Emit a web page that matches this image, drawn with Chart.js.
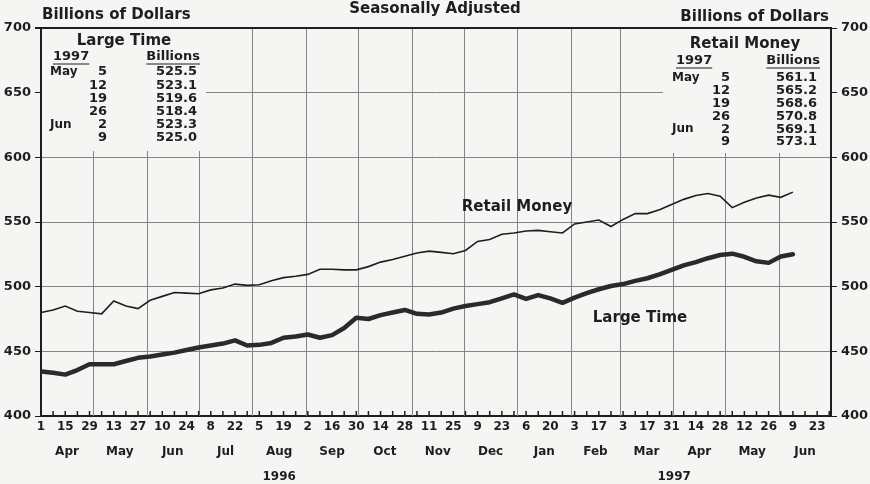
<!DOCTYPE html>
<html>
<head>
<meta charset="utf-8">
<script src="https://cdn.jsdelivr.net/npm/chart.js@4.4.0/dist/chart.umd.min.js"></script>
<style>
    html, body { margin: 0; padding: 0; background: #f5f5f3; }
    #wrap { width: 870px; height: 484px; }
</style>
</head>
<body>
<div id="wrap"><canvas id="chart" width="870" height="484"></canvas></div>
<script>
// Semanas a partir de 1 Apr 1996 (uma leitura por semana)
const retailMoney = [
    480, 482, 485, 481, 480, 479, 489, 485, 483, 489.5,
    492.5, 495.5, 495, 494.5, 497.5, 499, 502, 501, 501.5, 504.5,
    507, 508, 509.5, 513.5, 513.5, 513, 513, 515.5, 519, 521,
    523.5, 526, 527.5, 526.5, 525.5, 528, 535, 536.5, 540.5, 541.5,
    543, 543.5, 542.5, 541.5, 548.5, 550, 551.5, 546.5, 552, 556.5,
    556.5, 559.5, 563.5, 567.5, 570.5, 572, 570, 561.1, 565.2, 568.6,
    570.8, 569.1, 573.1
];
const largeTime = [
    434.5, 433.5, 432, 435.5, 440, 440, 440, 442.5, 445, 446,
    447.5, 449, 451, 453, 454.5, 456, 458.5, 454.5, 455, 456.5,
    460.5, 461.5, 463, 460.5, 462.5, 468, 476, 475, 478, 480,
    482, 479, 478.5, 480, 483, 485, 486.5, 488, 491, 494,
    490.5, 493.5, 491, 487.5, 491.5, 495, 498, 500.5, 502, 504.5,
    506.5, 509.5, 513, 516.5, 519, 522, 524.5, 525.5, 523.1, 519.6,
    518.4, 523.3, 525.0
];

// Eixo x em dias desde 1 Apr 1996
const monthStarts = [0, 30, 61, 91, 122, 153, 183, 214, 244, 275, 306, 334, 365, 395, 426, 456];
const monthNames = ['Apr', 'May', 'Jun', 'Jul', 'Aug', 'Sep', 'Oct', 'Nov', 'Dec',
                    'Jan', 'Feb', 'Mar', 'Apr', 'May', 'Jun'];
const yearLabels = ['1996', '1997'];
const yearStarts = [0, 275, 456];

// Tabelas das caixas
const tableDays = [['May', '5'], ['', '12'], ['', '19'], ['', '26'], ['Jun', '2'], ['', '9']];
const largeTimeTable = ['525.5', '523.1', '519.6', '518.4', '523.3', '525.0'];
const retailMoneyTable = ['561.1', '565.2', '568.6', '570.8', '569.1', '573.1'];

const ink = '#1e1e1e';
const gridColor = '#858585';
const bg = '#f5f5f3';
const fontFamily = '"DejaVu Sans", sans-serif';

function toPoints(values) {
    return values.map((v, i) => ({ x: i * 7, y: v }));
}

function dayOfMonth(d) {
    return new Date(1996, 3, 1 + d).getDate();
}

// Plugin para grade mensal, caixas e textos
const framePlugin = {
    id: 'frame',
    beforeDatasetsDraw(chart) {
        const { ctx, chartArea: a, scales: { x } } = chart;
        ctx.save();
        ctx.strokeStyle = gridColor;
        ctx.lineWidth = 1;
        monthStarts.slice(1, -1).forEach(d => {
            const px = Math.round(x.getPixelForValue(d)) + 0.5;
            ctx.beginPath();
            ctx.moveTo(px, a.top);
            ctx.lineTo(px, a.bottom);
            ctx.stroke();
        });
        // caixas das tabelas
        ctx.fillStyle = bg;
        ctx.fillRect(a.left + 1, a.top + 1, 164, 122);
        ctx.fillRect(663, a.top + 1, a.right - 664, 124);
        ctx.restore();
    },
    afterDraw(chart) {
        const { ctx, chartArea: a, scales: { x } } = chart;
        ctx.save();

        // borda superior
        ctx.strokeStyle = ink;
        ctx.lineWidth = 2;
        ctx.beginPath();
        ctx.moveTo(a.left, a.top);
        ctx.lineTo(a.right, a.top);
        ctx.stroke();

        // marcas semanais
        ctx.lineWidth = 1.5;
        for (let d = 0; d < 456; d += 7) {
            const px = x.getPixelForValue(d);
            ctx.beginPath();
            ctx.moveTo(px, a.bottom);
            ctx.lineTo(px, a.bottom - 5);
            ctx.stroke();
        }

        ctx.fillStyle = ink;
        ctx.textBaseline = 'middle';

        // meses
        ctx.font = 'bold 12px ' + fontFamily;
        ctx.textAlign = 'center';
        monthNames.forEach((m, i) => {
            const mid = (monthStarts[i] + monthStarts[i + 1]) / 2;
            ctx.fillText(m, x.getPixelForValue(mid), 452);
        });
        // anos
        yearLabels.forEach((yl, i) => {
            const mid = (yearStarts[i] + yearStarts[i + 1]) / 2;
            ctx.fillText(yl, x.getPixelForValue(mid), 477);
        });

        // titulos
        ctx.font = 'bold 15px ' + fontFamily;
        ctx.textAlign = 'left';
        ctx.fillText('Billions of Dollars', 42, 15);
        ctx.textAlign = 'right';
        ctx.fillText('Billions of Dollars', 829, 17);
        ctx.textAlign = 'center';
        ctx.fillText('Seasonally Adjusted', 435, 9);

        // rotulos das linhas
        ctx.fillText('Retail Money', 517, 207);
        ctx.fillText('Large Time', 640, 318);

        drawTable(ctx, {
            title: 'Large Time', titleX: 124, titleY: 41,
            yearX: 53, headY: 57, billRight: 200,
            monX: 50, dayRight: 107, valRight: 197,
            rowY: 72, step: 13.2, values: largeTimeTable
        });
        drawTable(ctx, {
            title: 'Retail Money', titleX: 745, titleY: 44,
            yearX: 676, headY: 61, billRight: 820,
            monX: 672, dayRight: 730, valRight: 817,
            rowY: 78, step: 12.8, values: retailMoneyTable
        });
        ctx.restore();
    }
};

function drawTable(ctx, t) {
    ctx.fillStyle = ink;
    ctx.strokeStyle = ink;
    ctx.lineWidth = 1.2;
    ctx.font = 'bold 15px ' + fontFamily;
    ctx.textAlign = 'center';
    ctx.fillText(t.title, t.titleX, t.titleY);

    ctx.font = 'bold 13px ' + fontFamily;
    ctx.textAlign = 'left';
    ctx.fillText('1997', t.yearX, t.headY);
    let w = ctx.measureText('1997').width;
    ctx.beginPath();
    ctx.moveTo(t.yearX, t.headY + 7);
    ctx.lineTo(t.yearX + w, t.headY + 7);
    ctx.stroke();

    ctx.textAlign = 'right';
    ctx.fillText('Billions', t.billRight, t.headY);
    w = ctx.measureText('Billions').width;
    ctx.beginPath();
    ctx.moveTo(t.billRight - w, t.headY + 7);
    ctx.lineTo(t.billRight, t.headY + 7);
    ctx.stroke();

    tableDays.forEach((row, i) => {
        const y = t.rowY + i * t.step;
        ctx.font = 'bold 12px ' + fontFamily;
        ctx.textAlign = 'left';
        ctx.fillText(row[0], t.monX, y);
        ctx.font = 'bold 13px ' + fontFamily;
        ctx.textAlign = 'right';
        ctx.fillText(row[1], t.dayRight, y);
        ctx.fillText(t.values[i], t.valRight, y);
    });
}

const yScaleBase = {
    min: 400,
    max: 700,
    ticks: {
        stepSize: 50,
        color: ink,
        padding: 4,
        font: { family: fontFamily, size: 13, weight: 'bold' }
    },
    border: { display: true, width: 2, color: ink }
};

const ctx = document.getElementById('chart').getContext('2d');
new Chart(ctx, {
    type: 'line',
    data: {
        datasets: [{
            label: 'Retail Money',
            data: toPoints(retailMoney),
            borderColor: ink,
            borderWidth: 1.6,
            pointRadius: 0,
            tension: 0
        }, {
            label: 'Large Time',
            data: toPoints(largeTime),
            borderColor: '#2a2a2a',
            borderWidth: 4.5,
            pointRadius: 0,
            tension: 0,
            borderJoinStyle: 'round',
            borderCapStyle: 'round'
        }]
    },
    options: {
        responsive: false,
        animation: false,
        layout: { padding: { top: 28, left: 0, right: 0, bottom: 0 } },
        plugins: {
            legend: { display: false },
            tooltip: { enabled: false }
        },
        scales: {
            x: {
                type: 'linear',
                min: 0,
                max: 456,
                afterBuildTicks: s => {
                    const t = [];
                    for (let d = 0; d <= 448; d += 14) t.push({ value: d });
                    s.ticks = t;
                },
                ticks: {
                    autoSkip: false,
                    maxRotation: 0,
                    padding: 4,
                    color: ink,
                    font: { family: fontFamily, size: 12, weight: 'bold' },
                    callback: v => String(dayOfMonth(v))
                },
                grid: { display: false, drawTicks: false },
                border: { display: true, width: 2, color: ink },
                afterFit: s => { s.height = 68; }
            },
            y: Object.assign({}, yScaleBase, {
                position: 'left',
                grid: {
                    color: ctx => (ctx.tick && (ctx.tick.value === 700 || ctx.tick.value === 400)) ? ink : gridColor,
                    lineWidth: ctx => (ctx.tick && ctx.tick.value === 700) ? 2 : 1,
                    tickColor: ink,
                    tickLength: 6
                },
                afterFit: s => { s.width = 41; }
            }),
            y2: Object.assign({}, yScaleBase, {
                position: 'right',
                grid: {
                    drawOnChartArea: false,
                    tickColor: ink,
                    tickLength: 6
                },
                afterFit: s => { s.width = 39; }
            })
        }
    },
    plugins: [framePlugin]
});
</script>
</body>
</html>
